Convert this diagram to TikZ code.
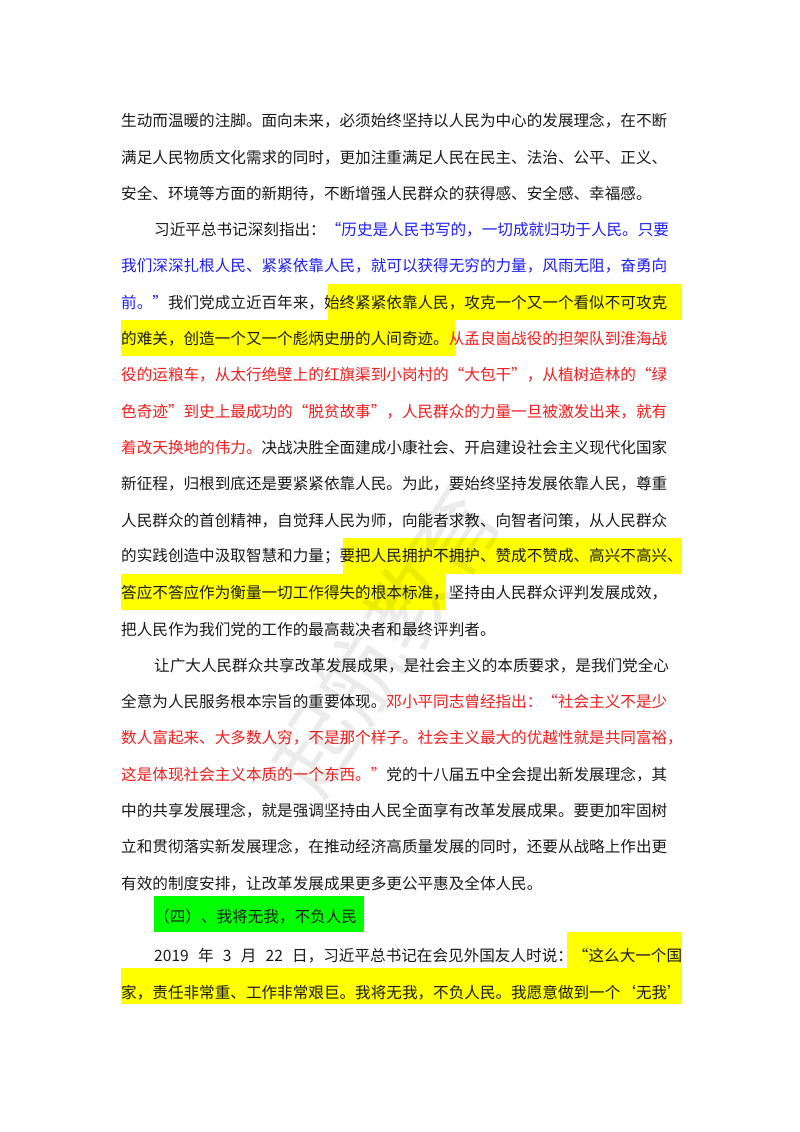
\documentclass[tikz,border=0pt]{standalone}
\usepackage{fontspec}
\setmainfont{Noto Sans CJK SC}
\definecolor{tx}{HTML}{1A1A1A}
\definecolor{qb}{HTML}{1E1EF0}
\definecolor{qr}{HTML}{F01E1E}
\definecolor{hy}{HTML}{FFFF00}
\definecolor{hg}{HTML}{00FF00}
\newcommand{\Bq}[1]{\textcolor{qb}{#1}}
\newcommand{\Rq}[1]{\textcolor{qr}{#1}}
\newcommand{\Sp}{\hskip 4pt plus 2pt\relax}
\newcommand{\JL}[2]{\hbox to #1{\XeTeXlinebreaklocale "zh"\XeTeXlinebreakskip=0pt plus 6pt minus 0.6pt #2}}
\begin{document}
\begin{tikzpicture}[x=1pt,y=-1pt,
  ln/.style={anchor=west,inner sep=0pt,text=tx,font=\fontsize{15.6}{18}\selectfont}]
\useasboundingbox (0,0) rectangle (800,1132);
\fill[white] (0,0) rectangle (800,1132);
% highlights
\fill[hy] (328,284) rectangle (682,320);
\fill[hy] (121,320) rectangle (455,356);
\fill[hy] (343,538) rectangle (682,574);
\fill[hy] (121,574) rectangle (445,610);
\fill[hg] (154,896) rectangle (364,932);
\fill[hy] (567,932) rectangle (682,968);
\fill[hy] (121,968) rectangle (682,1004);
% text lines
\def\W{561pt}\def\Wi{528pt}
\node[ln] (l1) at (121,121.0) {\JL{\W}{生动而温暖的注脚。面向未来，必须始终坚持以人民为中心的发展理念，在不断}};
\node[ln] (l2) at (121,157.3) {\JL{\W}{满足人民物质文化需求的同时，更加注重满足人民在民主、法治、公平、正义、}};
\node[ln] (l3) at (121,193.6) {安全、环境等方面的新期待，不断增强人民群众的获得感、安全感、幸福感。};
\node[ln] (l4) at (154,229.9) {\JL{\Wi}{习近平总书记深刻指出：\Bq{“历史是人民书写的，一切成就归功于人民。只要}}};
\node[ln] (l5) at (121,266.2) {\JL{\W}{\Bq{我们深深扎根人民、紧紧依靠人民，就可以获得无穷的力量，风雨无阻，奋勇向}}};
\node[ln] (l6) at (121,302.5) {\JL{\W}{\Bq{前。”}我们党成立近百年来，始终紧紧依靠人民，攻克一个又一个看似不可攻克}};
\node[ln] (l7) at (121,338.8) {\JL{\W}{的难关，创造一个又一个彪炳史册的人间奇迹。\Rq{从孟良崮战役的担架队到淮海战}}};
\node[ln] (l8) at (121,375.1) {\JL{\W}{\Rq{役的运粮车，从太行绝壁上的红旗渠到小岗村的“大包干”，从植树造林的“绿}}};
\node[ln] (l9) at (121,411.4) {\JL{\W}{\Rq{色奇迹”到史上最成功的“脱贫故事”，人民群众的力量一旦被激发出来，就有}}};
\node[ln] (l10) at (121,447.7) {\JL{\W}{\Rq{着改天换地的伟力。}决战决胜全面建成小康社会、开启建设社会主义现代化国家}};
\node[ln] (l11) at (121,484.0) {\JL{\W}{新征程，归根到底还是要紧紧依靠人民。为此，要始终坚持发展依靠人民，尊重}};
\node[ln] (l12) at (121,520.3) {\JL{\W}{人民群众的首创精神，自觉拜人民为师，向能者求教、向智者问策，从人民群众}};
\node[ln] (l13) at (121,556.6) {\JL{\W}{的实践创造中汲取智慧和力量；要把人民拥护不拥护、赞成不赞成、高兴不高兴、}};
\node[ln] (l14) at (121,592.9) {\JL{\W}{答应不答应作为衡量一切工作得失的根本标准，坚持由人民群众评判发展成效，}};
\node[ln] (l15) at (121,629.2) {把人民作为我们党的工作的最高裁决者和最终评判者。};
\node[ln] (l16) at (154,665.5) {\JL{\Wi}{让广大人民群众共享改革发展成果，是社会主义的本质要求，是我们党全心}};
\node[ln] (l17) at (121,701.8) {\JL{\W}{全意为人民服务根本宗旨的重要体现。\Rq{邓小平同志曾经指出：“社会主义不是少}}};
\node[ln] (l18) at (121,738.1) {\JL{\W}{\Rq{数人富起来、大多数人穷，不是那个样子。社会主义最大的优越性就是共同富裕，}}};
\node[ln] (l19) at (121,774.4) {\JL{\W}{\Rq{这是体现社会主义本质的一个东西。”}党的十八届五中全会提出新发展理念，其}};
\node[ln] (l20) at (121,810.7) {\JL{\W}{中的共享发展理念，就是强调坚持由人民全面享有改革发展成果。要更加牢固树}};
\node[ln] (l21) at (121,847.0) {\JL{\W}{立和贯彻落实新发展理念，在推动经济高质量发展的同时，还要从战略上作出更}};
\node[ln] (l22) at (121,883.3) {有效的制度安排，让改革发展成果更多更公平惠及全体人民。};
\node[ln] (l23) at (154,917.0) {（四）、我将无我，不负人民};
\node[ln] (l24) at (154,955.9) {\JL{\Wi}{2019\Sp 年\Sp 3\Sp 月\Sp 22\Sp 日，习近平总书记在会见外国友人时说：“这么大一个国}};
\node[ln] (l25) at (121,992.2) {\JL{\W}{家，责任非常重、工作非常艰巨。我将无我，不负人民。我愿意做到一个‘无我’}};
% watermark (faint, over the text as in the reference)
\node[rotate=57,text=black,opacity=0.08,font=\fontsize{85}{95}\selectfont] (wm) at (385,640) {起航教育};
\end{tikzpicture}
\end{document}
